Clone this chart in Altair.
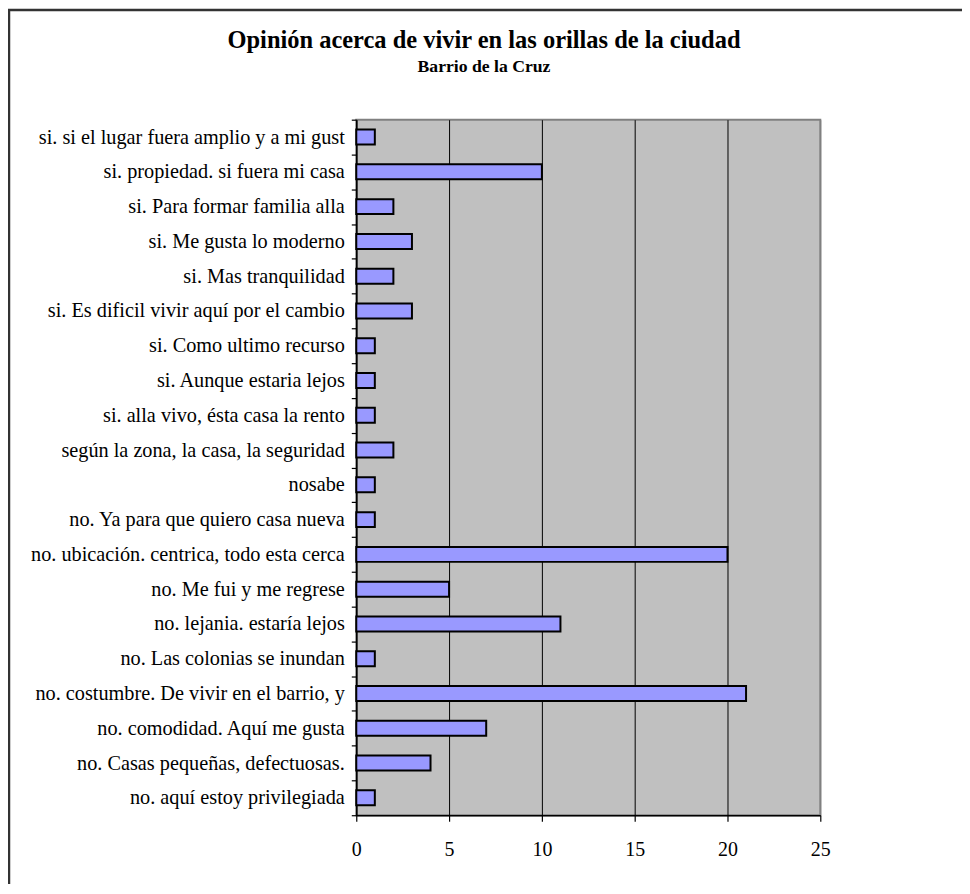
import altair as alt
import pandas as pd

categories = [
    "si. si el lugar fuera amplio y a mi gust",
    "si. propiedad. si fuera mi casa",
    "si. Para formar familia alla",
    "si. Me gusta lo moderno",
    "si. Mas tranquilidad",
    "si. Es dificil vivir aquí por el cambio",
    "si. Como ultimo recurso",
    "si. Aunque estaria lejos",
    "si. alla vivo, ésta casa la rento",
    "según la zona, la casa, la seguridad",
    "nosabe",
    "no. Ya para que quiero casa nueva",
    "no. ubicación. centrica, todo esta cerca",
    "no. Me fui y me regrese",
    "no. lejania. estaría lejos",
    "no. Las colonias se inundan",
    "no. costumbre. De vivir en el barrio, y",
    "no. comodidad. Aquí me gusta",
    "no. Casas pequeñas, defectuosas.",
    "no. aquí estoy privilegiada",
]
values = [1, 10, 2, 3, 2, 3, 1, 1, 1, 2, 1, 1, 20, 5, 11, 1, 21, 7, 4, 1]
x_ticks = [0, 5, 10, 15, 20, 25]

title_text = "Opinión acerca de vivir en las orillas de la ciudad"
subtitle_text = "Barrio de la Cruz"

df = pd.DataFrame({"respuesta": categories, "n": values})
titles = pd.DataFrame({"t": [title_text], "s": [subtitle_text]})

FONT = "Liberation Serif"
W, H = 465, 697

bars = alt.Chart(df).mark_bar(
    fill="#9999FF", stroke="black", strokeWidth=2,
    height=alt.RelativeBandSize(0.43)
).encode(
    x=alt.X("n:Q",
            scale=alt.Scale(domain=[0, 25], nice=False, zero=True),
            axis=alt.Axis(values=x_ticks, title=None, grid=True,
                          gridColor=alt.condition("datum.value == 25", alt.value("#808080"), alt.value("black")),
                          gridWidth=1, domainColor="black", domainWidth=1.5,
                          tickColor="black", tickSize=6, tickWidth=1.2,
                          labelFont=FONT, labelFontSize=20, labelColor="black",
                          labelPadding=18, labelFlush=False)),
    y=alt.Y("respuesta:N", sort=categories,
            scale=alt.Scale(paddingInner=0, paddingOuter=0),
            axis=alt.Axis(title=None, tickBand="extent", tickSize=5, tickWidth=1.2,
                          tickColor="black", domainColor="black", domainWidth=1.5,
                          labelFont=FONT, labelFontSize=20.3, labelColor="black",
                          labelPadding=7, labelLimit=500, grid=False)),
)

frame = alt.Chart(titles).mark_rect(
    fillOpacity=0, stroke="#333333", strokeWidth=2.5
).encode(
    x=alt.value(-348), x2=alt.value(640),
    y=alt.value(-110), y2=alt.value(800),
)

title_mark = alt.Chart(titles).mark_text(
    font=FONT, fontSize=24.5, fontWeight="bold", color="black",
    align="center", baseline="alphabetic"
).encode(text="t:N", x=alt.value(128), y=alt.value(-72))

subtitle_mark = alt.Chart(titles).mark_text(
    font=FONT, fontSize=17.7, fontWeight="bold", color="black",
    align="center", baseline="alphabetic"
).encode(text="s:N", x=alt.value(128), y=alt.value(-48))

chart = alt.layer(frame, bars, title_mark, subtitle_mark).properties(
    width=W, height=H,
    padding={"left": 349, "top": 111, "right": 142, "bottom": 68},
    autosize=alt.AutoSizeParams(type="none"),
    background="white",
).configure_view(
    fill="#C0C0C0", stroke="#808080", strokeWidth=2
)

chart.save("out.html", embed_options={"renderer": "svg", "actions": False})
